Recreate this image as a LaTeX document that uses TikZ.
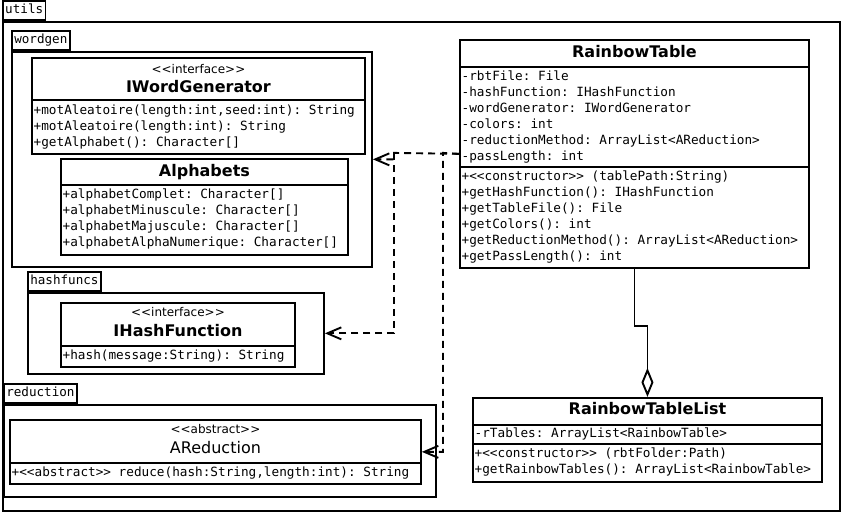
\documentclass[tikz,border=0pt]{standalone}
\usepackage{fontspec}
\setmainfont{DejaVu Sans}[Ligatures=TeXOff]
\setmonofont{DejaVu Sans Mono}[Ligatures=TeXOff]
\usepackage{tikz}
\usetikzlibrary{arrows.meta}

\tikzset{
  pkgbody/.style={draw, line width=1.9pt, anchor=north west, inner sep=0pt},
  pkgtab/.style={draw, line width=1.9pt, anchor=south west, inner xsep=2.3pt, inner ysep=0pt,
    minimum height=19pt, text height=9.5pt, text depth=3pt, font=\ttfamily\fontsize{12.6}{16}\selectfont},
  classbox/.style={draw, line width=1.9pt, anchor=north west, inner sep=0pt},
  member/.style={anchor=base west, inner sep=0pt, font=\ttfamily\fontsize{12.7}{16}\selectfont},
  cname/.style={anchor=base, inner sep=0pt, font=\bfseries\fontsize{16}{19}\selectfont},
  aname/.style={anchor=base, inner sep=0pt, font=\fontsize{16}{19}\selectfont},
  stereo/.style={anchor=base, inner sep=0pt, font=\fontsize{12}{14}\selectfont},
  divider/.style={line width=1.9pt},
  dep/.style={line width=1.9pt, dash pattern=on 7pt off 5pt, -{Straight Barb[length=14pt,width=12pt]}},
  aggr/.style={line width=1.9pt, -{Diamond[open,length=29pt,width=12pt]}},
}

\begin{document}
\begin{tikzpicture}[x=1pt,y=-1pt]

\path[fill=white] (0,0) rectangle (842,512);

% packages
\node[pkgbody, minimum width=837pt, minimum height=489pt] (utils) at (2,20) {};
\node[pkgtab] (utilstab) at (utils.north west) {utils};

\node[pkgbody, minimum width=360pt, minimum height=215pt] (wordgen) at (11,50) {};
\node[pkgtab] (wordgentab) at (wordgen.north west) {wordgen};

\node[pkgbody, minimum width=296pt, minimum height=81pt] (hashfuncs) at (27,291) {};
\node[pkgtab] (hashfuncstab) at (hashfuncs.north west) {hashfuncs};

\node[pkgbody, minimum width=432pt, minimum height=92pt] (reduction) at (3,403) {};
\node[pkgtab] (reductiontab) at (reduction.north west) {reduction};

% IWordGenerator
\node[classbox, minimum width=333pt, minimum height=96pt] (iwg) at (31,56) {};
\draw[divider] (iwg.west |- 0,99) -- (iwg.east |- 0,99);
\node[stereo] (iwgst) at (iwg.center |- 0,73) {<<interface>>};
\node[cname] (iwgname) at (iwg.center |- 0,92) {IWordGenerator};
\node[member] (iwgm1) at (33.5,114) {+motAleatoire(length:int,seed:int): String};
\node[member] (iwgm2) at (33.5,130) {+motAleatoire(length:int): String};
\node[member] (iwgm3) at (33.5,146) {+getAlphabet(): Character[]};

% Alphabets
\node[classbox, minimum width=287pt, minimum height=96pt] (alpha) at (60,157) {};
\draw[divider] (alpha.west |- 0,184) -- (alpha.east |- 0,184);
\node[cname] (alphaname) at (alpha.center |- 0,176) {Alphabets};
\node[member] (alpham1) at (62.5,198) {+alphabetComplet: Character[]};
\node[member] (alpham2) at (62.5,214) {+alphabetMinuscule: Character[]};
\node[member] (alpham3) at (62.5,230) {+alphabetMajuscule: Character[]};
\node[member] (alpham4) at (62.5,246) {+alphabetAlphaNumerique: Character[]};

% IHashFunction
\node[classbox, minimum width=234pt, minimum height=64pt] (ihf) at (60,301) {};
\draw[divider] (ihf.west |- 0,345) -- (ihf.east |- 0,345);
\node[stereo] (ihfst) at (ihf.center |- 0,316) {<<interface>>};
\node[cname] (ihfname) at (ihf.center |- 0,336) {IHashFunction};
\node[member] (ihfm1) at (62.5,359) {+hash(message:String): String};

% AReduction
\node[classbox, minimum width=411pt, minimum height=64pt] (ared) at (9,418) {};
\draw[divider] (ared.west |- 0,462) -- (ared.east |- 0,462);
\node[stereo] (aredst) at (ared.center |- 0,433) {<<abstract>>};
\node[aname] (aredname) at (ared.center |- 0,453) {AReduction};
\node[member] (aredm1) at (11.5,476) {+<<abstract>> reduce(hash:String,length:int): String};

% RainbowTable
\node[classbox, minimum width=349pt, minimum height=228pt] (rt) at (459,38) {};
\draw[divider] (rt.west |- 0,66) -- (rt.east |- 0,66);
\draw[divider] (rt.west |- 0,166) -- (rt.east |- 0,166);
\node[cname] (rtname) at (rt.center |- 0,57) {RainbowTable};
\node[member] (rta1) at (461.5,80) {-rbtFile: File};
\node[member] (rta2) at (461.5,96) {-hashFunction: IHashFunction};
\node[member] (rta3) at (461.5,112) {-wordGenerator: IWordGenerator};
\node[member] (rta4) at (461.5,128) {-colors: int};
\node[member] (rta5) at (461.5,144) {-reductionMethod: ArrayList<AReduction>};
\node[member] (rta6) at (461.5,160) {-passLength: int};
\node[member] (rtm1) at (461.5,180) {+<<constructor>> (tablePath:String)};
\node[member] (rtm2) at (461.5,196) {+getHashFunction(): IHashFunction};
\node[member] (rtm3) at (461.5,212) {+getTableFile(): File};
\node[member] (rtm4) at (461.5,228) {+getColors(): int};
\node[member] (rtm5) at (461.5,244) {+getReductionMethod(): ArrayList<AReduction>};
\node[member] (rtm6) at (461.5,260) {+getPassLength(): int};

% RainbowTableList
\node[classbox, minimum width=349pt, minimum height=84pt] (rtl) at (472,396) {};
\draw[divider] (rtl.west |- 0,424) -- (rtl.east |- 0,424);
\draw[divider] (rtl.west |- 0,443) -- (rtl.east |- 0,443);
\node[cname] (rtlname) at (rtl.center |- 0,414) {RainbowTableList};
\node[member] (rtla1) at (474.5,437) {-rTables: ArrayList<RainbowTable>};
\node[member] (rtlm1) at (474.5,457) {+<<constructor>> (rbtFolder:Path)};
\node[member] (rtlm2) at (474.5,473) {+getRainbowTables(): ArrayList<RainbowTable>};

% relations
\coordinate (j1) at (443,152);
\coordinate (j2) at (394,152);
\draw[dep] (rt.west) -- (j1) |- (ared.east);
\draw[dep] (rt.west) -- (j2) |- (wordgen.east);
\draw[dep] (j2) |- (hashfuncs.east);
\draw[aggr] (rt.south) -- ++(0,57) -| (rtl.north);

\end{tikzpicture}
\end{document}
